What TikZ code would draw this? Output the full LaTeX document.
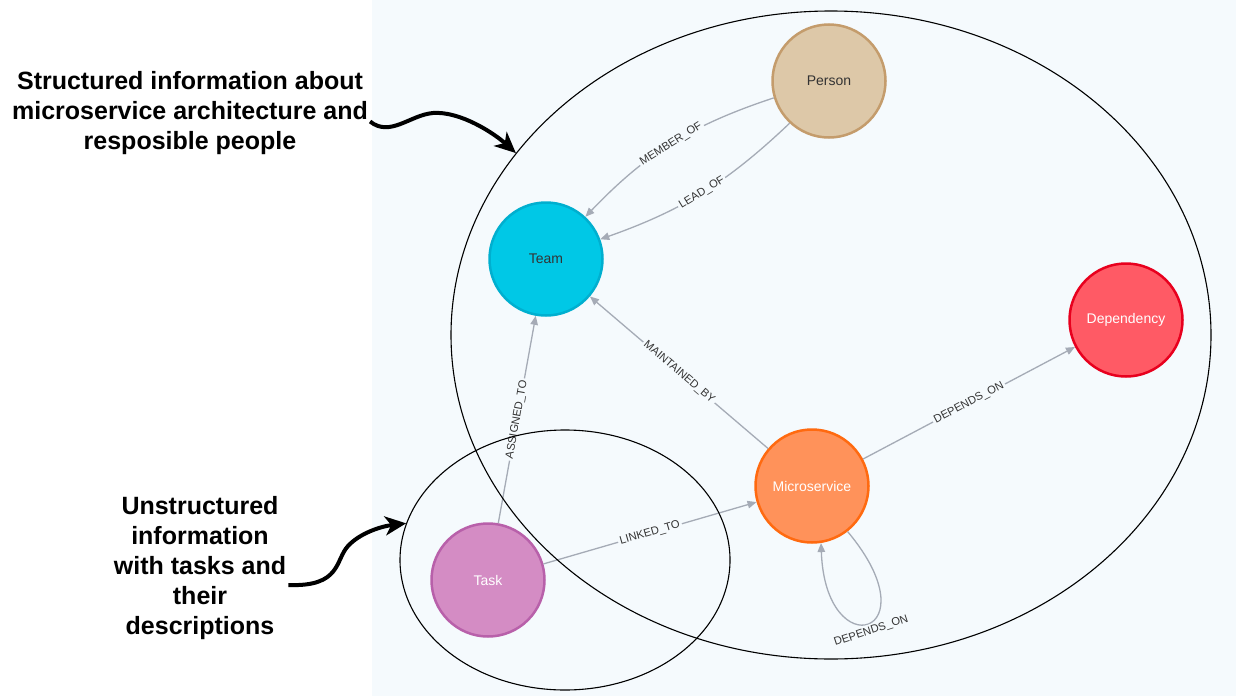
\documentclass[tikz,border=0pt]{standalone}
\usepackage{fontspec}
\setmainfont{Liberation Sans}
\usepackage{xcolor}
\usepackage{tikz}
\usetikzlibrary{shapes.geometric,arrows.meta,positioning}

\definecolor{canvasbg}{HTML}{F5FAFD}
\definecolor{relgray}{HTML}{A5ABB6}
\definecolor{personfill}{HTML}{DDC8A8}
\definecolor{persondraw}{HTML}{C49C6C}
\definecolor{teamfill}{HTML}{00C8E6}
\definecolor{teamdraw}{HTML}{00AFCF}
\definecolor{depfill}{HTML}{FF5A65}
\definecolor{depdraw}{HTML}{E8001E}
\definecolor{msfill}{HTML}{FF925A}
\definecolor{msdraw}{HTML}{FF6A10}
\definecolor{taskfill}{HTML}{D48CC4}
\definecolor{taskdraw}{HTML}{B860AA}

\begin{document}
\begin{tikzpicture}[x=1pt, y=1pt,
    entity/.style={circle, minimum size=113pt, inner sep=0pt, line width=2.5pt, font=\fontsize{14}{16}\selectfont},
    rel/.style={draw=relgray, line width=1.3pt, -{Triangle[length=9pt,width=7.5pt]}},
    rellabel/.style={sloped, fill=canvasbg, inner sep=2pt, text=black!80, font=\fontsize{11.2}{13}\selectfont},
    field/.style={draw=black, line width=1.1pt, ellipse, inner sep=0pt},
    note/.style={align=center, inner sep=2pt, font=\fontsize{25}{30}\selectfont\bfseries},
    pointer/.style={draw=black, line width=4pt, -{Stealth[length=21pt,width=19pt,inset=6pt]}}]
    \useasboundingbox (0,0) rectangle (1236,-696);
    \fill[white] (0,0) rectangle (1236,-696);
    \fill[canvasbg] (372,0) rectangle (1236,-696);

    % graph nodes
    \node[entity, fill=personfill, draw=persondraw, text=black!80] (person) at (829,-81) {Person};
    \node[entity, fill=teamfill, draw=teamdraw, text=black!80] (team) at (546,-259) {Team};
    \node[entity, fill=depfill, draw=depdraw, text=white] (dependency) at (1126,-320) {Dependency};
    \node[entity, fill=msfill, draw=msdraw, text=white] (microservice) at (812,-486) {Microservice};
    \node[entity, fill=taskfill, draw=taskdraw, text=white] (task) at (488,-580) {Task};

    % relationships
    \draw[rel] (person.197) to[bend right=14] node[rellabel] {MEMBER\_OF} (team.47);
    \draw[rel] (person.227) to[bend left=12] node[rellabel] {LEAD\_OF} (team.20);
    \draw[rel] (task) -- node[rellabel] {ASSIGNED\_TO} (team);
    \draw[rel] (microservice) -- node[rellabel] {MAINTAINED\_BY} (team);
    \draw[rel] (microservice) -- node[rellabel] {DEPENDS\_ON} (dependency);
    \draw[rel] (task) -- node[rellabel] {LINKED\_TO} (microservice);
    \draw[rel] (microservice.-52) .. controls +(-50:135) and +(-88:125) .. (microservice.-81)
        node[rellabel, pos=0.5, below=1pt] {DEPENDS\_ON};

    % groups
    \node[field, minimum width=760pt, minimum height=648pt] (structured) at (831,-335) {};
    \node[field, minimum width=330pt, minimum height=260pt] (unstructured) at (565,-560) {};

    % notes
    \node[note] (notestruct) at (190,-113.5) {Structured information about\\microservice architecture and\\resposible people};
    \node[note] (noteunstr) at (200,-568.5) {Unstructured\\information\\with tasks and\\their\\descriptions};

    \draw[pointer] ([yshift=-8pt]notestruct.east) .. controls +(20,-16) and +(-23,-2) .. (433,-113)
        .. controls +(27,2) and +(-22,20) .. (structured.150);
    \draw[pointer] ([yshift=-16.5pt]noteunstr.east) .. controls +(53,-2) and +(-13,-14) .. (348,-546)
        .. controls +(12,13) and +(-25,-3) .. (unstructured.167);
\end{tikzpicture}
\end{document}
